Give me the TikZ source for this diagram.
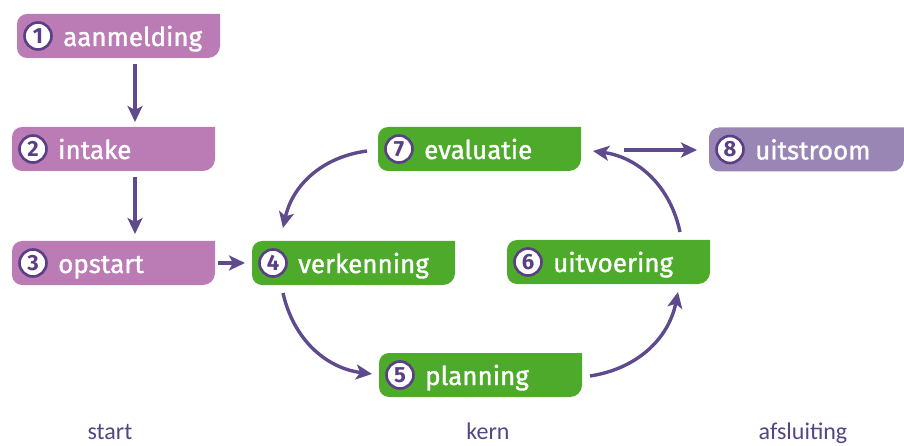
\documentclass[tikz,border=0pt]{standalone}
\usepackage{fontspec}
\setmainfont{Fira Sans}
\newfontfamily\lblfont{Fira Sans}[FakeBold=1.3]
\newfontfamily\numfont{Fira Sans}
\newfontfamily\bottomfont{Carlito}
\usetikzlibrary{arrows.meta,calc}
\definecolor{pinkp}{HTML}{BB7BB4}
\definecolor{greenb}{HTML}{4DAA2A}
\definecolor{lav}{HTML}{9A86B4}
\definecolor{arrowc}{HTML}{5E4A8C}
\definecolor{ringc}{HTML}{5A3E86}
\definecolor{bottomc}{HTML}{544684}
\tikzset{
  stepbox/.style={minimum height=44pt, inner sep=0pt, outer sep=0pt},
  badge/.style={circle, draw=ringc, line width=2.6pt, fill=white, minimum size=27pt, inner sep=0pt, font=\numfont\bfseries\fontsize{22}{22}\selectfont, text=ringc},
  lbl/.style={anchor=base west, text=white, font=\lblfont\fontsize{26}{26}\selectfont, inner sep=0pt},
  arr/.style={draw=arrowc, line width=3.4pt, -{Stealth[length=16pt,width=15pt,inset=4pt]}},
  phase/.style={text=bottomc, font=\bottomfont\fontsize{24}{24}\selectfont, anchor=base, inner sep=0pt},
}
\newcommand{\boxfill}[2]{%
  \fill[#2] let \p1=(#1.south west), \p2=(#1.north east) in
    (\x2,\y2) -- (\x2,\y1+12pt) arc[start angle=0,end angle=-90,radius=12pt]
    -- (\x1+10pt,\y1) arc[start angle=270,end angle=180,radius=10pt]
    -- (\x1,\y2-10pt) arc[start angle=180,end angle=90,radius=10pt] -- cycle;
}
\newcommand{\mystage}[7]{%
  \node[stepbox, minimum width=#4pt] (#1) at (#2,-#3) {};
  \boxfill{#1}{#5}
  \node[badge] (#1b) at ($(#1.west)+(21,0)$) {#6};
  \node[lbl] (#1t) at ($(#1.west)+(46,-10)$) {#7};
}
\begin{document}
\begin{tikzpicture}[x=1pt,y=1pt]
\useasboundingbox (0,0) rectangle (904,-446);
\mystage{n1}{118.5}{36}{203}{pinkp}{1}{aanmelding}
\mystage{n2}{113.5}{149}{203}{pinkp}{2}{intake}
\mystage{n3}{113.5}{263}{203}{pinkp}{3}{opstart}
\mystage{n4}{353.5}{263}{203}{greenb}{4}{verkenning}
\mystage{n5}{480.5}{375}{203}{greenb}{5}{planning}
\mystage{n6}{608.5}{262}{203}{greenb}{6}{uitvoering}
\mystage{n7}{479.5}{149}{203}{greenb}{7}{evaluatie}
\mystage{n8}{806.5}{149.5}{195}{lav}{8}{uitstroom}
% connectors
\draw[arr] ([xshift=16.5pt,yshift=-6pt]n1.south) -- ([xshift=21.5pt,yshift=5pt]n2.north);
\draw[arr] ([xshift=21.5pt,yshift=-6pt]n2.south) -- ([xshift=21.5pt,yshift=7pt]n3.north);
\draw[arr] ([xshift=3pt]n3.east) -- ([xshift=-7pt]n4.west);
\draw[arr] ([xshift=43pt,yshift=-1pt]n7.east) -- ([xshift=-12pt,yshift=-0.5pt]n8.west);
\draw[arr] ($(n7.west)+(-11,-2)$) to[bend right=35] ($(n4.north west)+(31,13)$);
\draw[arr] ($(n4.south west)+(31,-8)$) to[bend right=35] ($(n5.west)+(-7,1)$);
\draw[arr] ($(n5.east)+(8,-1)$) to[bend right=35] ($(n6.south east)+(-32,-8)$);
\draw[arr] ($(n6.north east)+(-30,8)$) to[bend right=35] ($(n7.east)+(12,-2)$);
% phase labels
\node[phase] (ps) at (110,-439) {start};
\node[phase] (pk) at (488,-439) {kern};
\node[phase] (pa) at (803,-439) {afsluiting};
\end{tikzpicture}
\end{document}
